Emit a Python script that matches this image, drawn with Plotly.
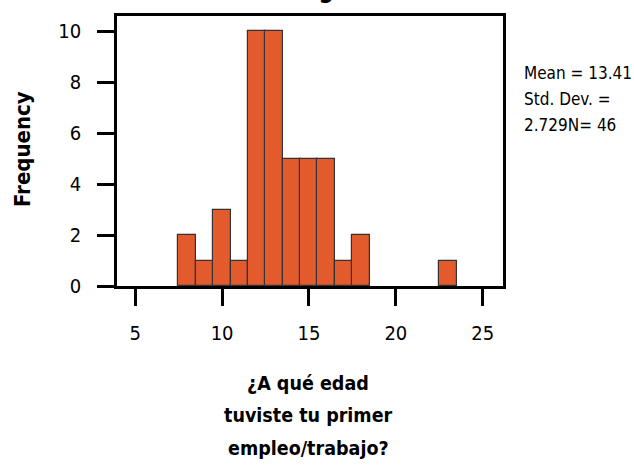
import plotly.graph_objects as go

ages = [8, 9, 10, 11, 12, 13, 14, 15, 16, 17, 18, 23]
freq = [2, 1, 3, 1, 10, 10, 5, 5, 5, 1, 2, 1]
x_ticks = [5, 10, 15, 20, 25]
y_ticks = [0, 2, 4, 6, 8, 10]
stats_lines = ["Mean = 13.41", "Std. Dev. =", "2.729N= 46"]
x_title_lines = ["¿A qué edad", "tuviste tu primer", "empleo/trabajo?"]
y_title = "Frequency"
chart_title = "Histogram"

FONT = "DejaVu Sans Condensed, Liberation Sans Narrow, sans-serif"
W, H = 634, 469
ML, MR, MT, MB = 117, 131, 16, 183
PH = H - MT - MB

fig = go.Figure()
fig.add_trace(go.Bar(
    x=ages, y=freq, width=1.03,
    marker=dict(color="#E35B2C", line=dict(color="#333333", width=1.2)),
    showlegend=False,
))

axis_common = dict(
    showline=True, linecolor="black", linewidth=2.5, mirror=True,
    ticks="outside", ticklen=17, tickwidth=2.5, tickcolor="black",
    showgrid=False, zeroline=False,
    tickfont=dict(family=FONT, size=20, color="black"),
)

fig.update_layout(
    width=W, height=H,
    margin=dict(l=ML, r=MR, t=MT, b=MB),
    paper_bgcolor="white", plot_bgcolor="white",
    bargap=0,
    xaxis=dict(range=[3.95, 26.17], tickvals=x_ticks, ticklabelstandoff=10, **axis_common),
    yaxis=dict(range=[0, 10.6], tickvals=y_ticks, ticklabelstandoff=12, **axis_common),
)

def ypaper(px):
    return (H - MB - px) / PH

annotations = []
# title, mostly cut off at top of the picture
annotations.append(dict(text="<b>%s</b>" % chart_title, xref="paper", yref="paper",
                        x=0.5, xshift=8, y=ypaper(-10), yanchor="middle", xanchor="center", showarrow=False,
                        font=dict(family=FONT, size=24, color="black")))
# y title
annotations.append(dict(text="<b>%s</b>" % y_title, xref="paper", yref="paper",
                        x=0, xshift=-95, y=ypaper(149), xanchor="center", yanchor="middle",
                        textangle=-90, showarrow=False,
                        font=dict(family=FONT, size=22, color="black")))
# x title lines
for line, ypx in zip(x_title_lines, [383, 415, 448]):
    annotations.append(dict(text="<b>%s</b>" % line, xref="paper", yref="paper",
                            x=0.5, xshift=-2, y=ypaper(ypx), xanchor="center", yanchor="middle",
                            showarrow=False, font=dict(family=FONT, size=19.5, color="black")))
# stats lines
for line, ypx in zip(stats_lines, [73, 99, 125]):
    annotations.append(dict(text=line, xref="paper", yref="paper",
                            x=1, xshift=19, y=ypaper(ypx), xanchor="left", yanchor="middle",
                            showarrow=False, font=dict(family=FONT, size=17, color="black")))
fig.update_layout(annotations=annotations)

fig.write_html("out.html", config={"displayModeBar": False},
               post_script="document.body.style.margin='0';")
